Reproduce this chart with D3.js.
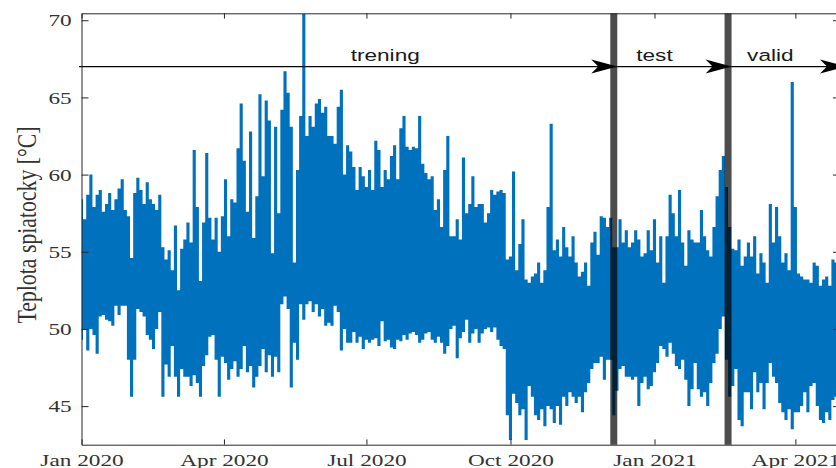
<!DOCTYPE html>
<html>
<head>
<meta charset="utf-8">
<script src="https://cdn.jsdelivr.net/npm/d3@7"></script>
<style>
  body { margin: 0; background: #fff; }
  svg { display: block; }
</style>
</head>
<body>
<svg id="chart" width="836" height="468"></svg>
<script>
// two-day bins, starting 1 Jan 2020: max and min temperature in each bin
const binDays = 2;
const hi = [
  58.4, 57.1, 58.7, 60.0, 57.9, 58.7, 59.0, 57.6, 58.1, 58.8,
  57.7, 58.4, 59.1, 59.7, 57.7, 57.3, 54.6, 58.8, 59.8, 59.0,
  58.1, 59.5, 58.4, 58.1, 57.7, 58.7, 55.3, 54.5, 55.1, 53.8,
  56.7, 52.5, 55.2, 55.8, 56.9, 55.6, 61.6, 57.9, 53.1, 56.9,
  61.4, 57.2, 55.8, 57.2, 55.0, 57.3, 59.7, 56.0, 58.4, 58.2,
  61.7, 64.6, 60.9, 57.6, 62.8, 55.9, 58.6, 65.2, 59.9, 64.8,
  63.5, 54.9, 63.1, 57.5, 64.2, 66.7, 65.3, 63.1, 54.3, 60.3,
  63.8, 70.4, 62.5, 63.8, 63.1, 64.6, 64.9, 64.0, 64.4, 62.5,
  62.5, 62.0, 64.4, 65.5, 60.0, 61.9, 61.5, 60.5, 59.0, 60.5,
  59.9, 59.2, 60.3, 59.0, 62.2, 61.6, 59.2, 60.3, 59.7, 61.2,
  61.9, 59.7, 63.0, 63.8, 61.8, 61.6, 61.8, 61.7, 63.8, 60.7,
  60.1, 59.7, 59.9, 57.7, 58.4, 56.6, 60.3, 62.5, 56.0, 56.0,
  57.1, 55.8, 61.1, 57.5, 58.1, 59.9, 57.9, 58.1, 58.1, 56.9,
  57.5, 59.0, 58.7, 58.9, 59.0, 58.8, 54.5, 54.7, 60.2, 53.8,
  55.5, 57.1, 53.2, 53.0, 53.4, 53.6, 54.3, 53.0, 53.8, 57.9,
  63.3, 55.1, 55.8, 54.7, 56.6, 55.3, 54.7, 56.0, 54.3, 53.4,
  53.7, 54.3, 52.8, 55.6, 56.3, 54.8, 57.3, 57.2, 56.6, 57.2,
  55.3, 55.3, 57.1, 55.6, 56.4, 55.3, 55.6, 56.4, 55.8, 54.7,
  54.9, 56.4, 55.1, 57.1, 54.3, 56.0, 53.0, 56.0, 58.7, 57.5,
  56.0, 59.0, 55.6, 54.1, 56.4, 55.8, 55.6, 55.6, 57.7, 56.0,
  55.1, 54.7, 56.6, 58.6, 60.3, 61.2, 59.2, 56.6, 55.2, 55.1,
  55.8, 54.1, 54.7, 55.6, 54.7, 56.0, 53.6, 54.9, 54.3, 53.0,
  58.1, 55.6, 57.9, 56.0, 54.3, 54.9, 53.8, 66.0, 57.9, 53.6,
  53.4, 53.2, 53.2, 53.0, 54.3, 54.1, 52.8, 53.2, 53.4, 52.8,
  54.5, 54.3, 53.0
];
const lo = [
  49.3, 50.0, 48.6, 50.0, 49.6, 48.4, 50.8, 50.9, 50.6, 50.5,
  50.2, 51.5, 50.9, 51.5, 51.5, 48.0, 45.6, 48.0, 51.3, 51.1,
  50.8, 49.6, 49.3, 48.7, 50.0, 51.1, 45.6, 47.7, 46.9, 48.9,
  46.9, 45.6, 47.4, 46.9, 46.9, 46.3, 47.0, 46.5, 45.6, 47.6,
  48.3, 49.5, 49.6, 48.0, 45.6, 48.2, 47.8, 46.7, 47.4, 47.9,
  46.9, 47.4, 48.9, 47.2, 47.6, 46.2, 46.9, 47.6, 48.7, 47.2,
  48.3, 46.9, 48.2, 47.2, 51.6, 52.1, 51.3, 46.2, 49.1, 48.0,
  51.6, 50.6, 51.6, 51.8, 51.1, 51.6, 50.8, 51.3, 50.2, 50.4,
  50.2, 51.5, 51.1, 48.6, 50.0, 49.1, 49.1, 49.8, 49.1, 49.5,
  48.7, 49.3, 49.1, 49.3, 49.4, 48.9, 50.5, 49.2, 49.3, 48.8,
  48.7, 49.3, 49.2, 49.6, 49.3, 49.7, 49.8, 49.6, 49.1, 49.3,
  49.7, 49.8, 49.3, 49.1, 49.5, 49.1, 48.4, 48.9, 50.0, 50.2,
  48.1, 49.4, 49.8, 50.6, 49.1, 49.7, 50.0, 49.1, 49.7, 50.0,
  50.1, 49.8, 50.1, 49.3, 48.9, 48.7, 44.4, 42.8, 45.8, 45.2,
  44.4, 44.8, 42.8, 46.3, 45.6, 44.4, 44.1, 44.8, 43.7, 45.0,
  44.8, 43.9, 45.0, 43.8, 45.6, 45.0, 45.9, 45.6, 45.2, 45.6,
  44.6, 45.9, 46.5, 47.4, 47.8, 47.8, 48.2, 46.7, 48.0, 48.0,
  44.4, 46.0, 47.4, 47.6, 46.9, 46.9, 46.7, 46.9, 45.0, 46.5,
  46.9, 46.1, 46.3, 47.2, 47.8, 48.9, 48.7, 48.2, 49.1, 48.4,
  47.6, 47.4, 48.0, 46.7, 45.0, 46.1, 47.8, 46.1, 45.6, 45.9,
  45.0, 46.5, 47.8, 48.4, 50.0, 50.8, 48.0, 45.6, 46.3, 47.4,
  44.1, 43.7, 45.9, 45.9, 44.8, 47.2, 45.9, 46.5, 44.8, 46.5,
  47.8, 46.9, 46.5, 45.2, 44.6, 44.1, 44.8, 43.5, 44.6, 44.6,
  45.0, 45.9, 44.6, 46.3, 46.5, 45.0, 44.1, 43.9, 44.6, 44.1,
  45.4, 45.6, 45.0
];

const splitDates = ["2020-12-06", "2021-02-17"];       // train | test | valid borders
const segLabels = ["trening", "test", "valid"];
const segLabelDates = ["2020-07-13", "2021-01-01", "2021-03-16"];
const arrowLevel = 67;
const xTickDates = ["2020-01-01", "2020-04-01", "2020-07-01", "2020-10-01", "2021-01-01", "2021-04-01"];
const yTicks = [45, 50, 55, 60, 65, 70];
const yTitle = "Teplota spiatocky [°C]";

(function () {
  const parse = d3.timeParse("%Y-%m-%d");
  const start = parse("2020-01-01");
  const end = new Date(2021, 3, 29, 12);

  const pL = 81.5, pR = 840, pT = 13.3, pB = 444.7;
  const stretch = 1.33;   // the figure is wider than tall, text got stretched too
  const ink = "#262626";
  const textInk = "#333";
  const blue = "#0072BD";

  const svg = d3.select("#chart");

  const x = d3.scaleTime().domain([start, end]).range([pL, pR]);
  const y = d3.scaleLinear().domain([42.5, 70.45]).range([pB, pT]);

  svg.append("clipPath").attr("id", "plot")
    .append("rect")
      .attr("x", pL).attr("y", pT)
      .attr("width", pR - pL).attr("height", pB - pT);

  // the hourly signal, as a band from bin minimum to bin maximum
  const binDate = k => d3.timeDay.offset(start, binDays * k);
  const n = Math.min(hi.length, lo.length);
  const upper = d3.range(n).map(k => [x(binDate(k)), y(hi[k])]);
  const lower = d3.range(n).map(k => [x(binDate(k)), y(lo[k])]).reverse();

  svg.append("path")
    .attr("clip-path", "url(#plot)")
    .attr("d", d3.line().curve(d3.curveStep)(upper.concat(lower)) + "Z")
    .attr("fill", blue);

  // split markers
  const splits = splitDates.map(parse);
  svg.append("g")
    .selectAll("line")
    .data(splits)
    .join("line")
      .attr("x1", d => x(d)).attr("x2", d => x(d))
      .attr("y1", pT).attr("y2", pB)
      .attr("stroke", "#000")
      .attr("stroke-opacity", 0.7)
      .attr("stroke-width", 7);

  // arrows: start -> split1 -> split2 -> end
  const ay = y(arrowLevel);
  const ends = [x(start) - 2.5].concat(splits.map(d => x(d) + 3.5), [x(end) + 6]);
  const arrows = svg.append("g");
  for (let i = 0; i < segLabels.length; i++) {
    arrows.append("line")
      .attr("x1", ends[i]).attr("x2", ends[i + 1])
      .attr("y1", ay).attr("y2", ay)
      .attr("stroke", "#000").attr("stroke-width", 1.2);
    arrows.append("path")
      .attr("d", "M0,0L-26,-7L-19,0L-26,7Z")
      .attr("transform", `translate(${ends[i + 1]},${ay})`)
      .attr("fill", "#000");
  }

  svg.append("g")
    .selectAll("text")
    .data(segLabels)
    .join("text")
      .attr("transform", (d, i) => `translate(${x(parse(segLabelDates[i]))},${ay - 5.5}) scale(${stretch},1)`)
      .attr("text-anchor", "middle")
      .attr("font-family", "Liberation Sans, Arial, sans-serif")
      .attr("font-size", 17)
      .attr("fill", "#1a1a1a")
      .text(d => d);

  // axes, box style with inward ticks
  const xt = xTickDates.map(parse);

  const gx = svg.append("g")
    .attr("transform", `translate(0,${pB})`)
    .call(d3.axisBottom(x).tickValues(xt).tickFormat(d3.timeFormat("%b %Y"))
      .tickSizeInner(-5.3).tickSizeOuter(0));
  gx.selectAll("text")
    .attr("y", null).attr("dy", null)
    .attr("transform", `translate(0,21) scale(${stretch},1)`);

  const gxTop = svg.append("g")
    .attr("transform", `translate(0,${pT})`)
    .call(d3.axisTop(x).tickValues(xt).tickFormat("").tickSizeInner(-5.3).tickSizeOuter(0));

  const gy = svg.append("g")
    .attr("transform", `translate(${pL},0)`)
    .call(d3.axisLeft(y).tickValues(yTicks).tickSizeInner(-7).tickSizeOuter(0));
  gy.selectAll("text")
    .attr("x", null)
    .attr("transform", `translate(-9.8,0) scale(${stretch},1)`);

  const gyRight = svg.append("g")
    .attr("transform", `translate(${pR},0)`)
    .call(d3.axisRight(y).tickValues(yTicks).tickFormat("").tickSizeInner(-7).tickSizeOuter(0));

  [gx, gxTop, gy, gyRight].forEach(g => {
    g.attr("font-family", "Liberation Serif, Times New Roman, serif")
     .attr("font-size", 17.5);
    g.selectAll("path, line").attr("stroke", ink).attr("stroke-width", 1);
    g.selectAll("text").attr("fill", textInk);
  });

  svg.append("text")
    .attr("transform", `translate(36,225) scale(${stretch},1) rotate(-90)`)
    .attr("text-anchor", "middle")
    .attr("font-family", "Liberation Serif, Times New Roman, serif")
    .attr("font-size", 19.8)
    .attr("textLength", 197)
    .attr("lengthAdjust", "spacingAndGlyphs")
    .attr("fill", textInk)
    .text(yTitle);
})();
</script>
</body>
</html>
